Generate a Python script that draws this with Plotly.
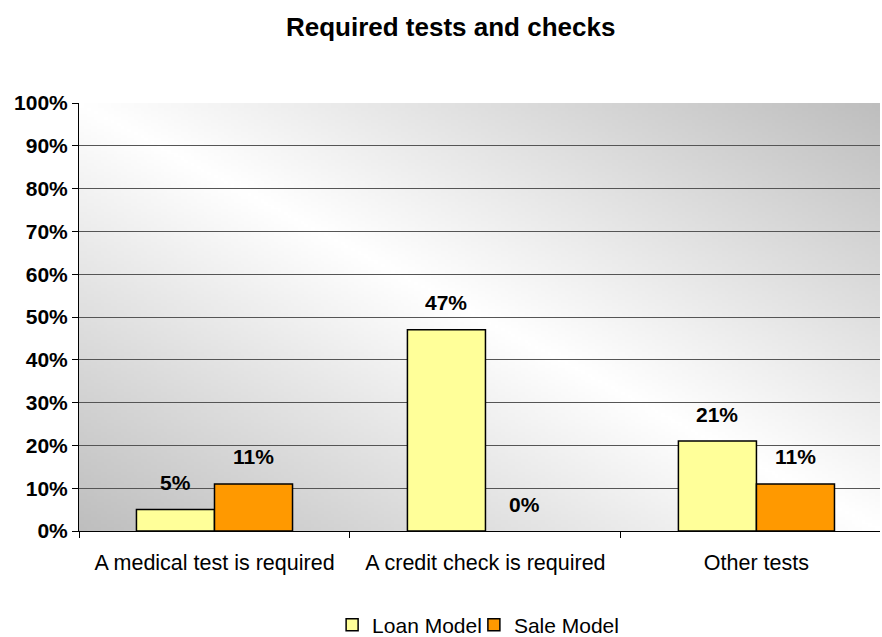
import base64, struct, zlib
import plotly.graph_objects as go

categories = ["A medical test is required", "A credit check is required", "Other tests"]
loan_model = [5, 47, 21]
sale_model = [11, 0, 11]
series_names = ["Loan Model", "Sale Model"]
y_ticks = [0, 10, 20, 30, 40, 50, 60, 70, 80, 90, 100]
y_tick_labels = [f"{v}%" for v in y_ticks]

FONT = "Liberation Sans, Arial, sans-serif"
LOAN_COLOR = "#FFFF99"
SALE_COLOR = "#FF9900"


def make_gradient_png(w=240, h=140):
    rows = []
    for j in range(h):
        v = j / (h - 1)
        row = bytearray([0])
        for i in range(w):
            u = i / (w - 1)
            d = abs(u - v)
            g = int(round(255 - (255 - 190) * d))
            row.append(g)
        rows.append(bytes(row))
    raw = b"".join(rows)

    def chunk(tag, data):
        c = struct.pack(">I", len(data)) + tag + data
        return c + struct.pack(">I", zlib.crc32(tag + data) & 0xFFFFFFFF)

    png = b"\x89PNG\r\n\x1a\n"
    png += chunk(b"IHDR", struct.pack(">IIBBBBB", w, h, 8, 0, 0, 0, 0))
    png += chunk(b"IDAT", zlib.compress(raw, 9))
    png += chunk(b"IEND", b"")
    return "data:image/png;base64," + base64.b64encode(png).decode()


x_idx = list(range(len(categories)))
bar_w = 0.288

fig = go.Figure()
fig.add_trace(go.Bar(
    x=x_idx, y=loan_model, name=series_names[0], legend="legend",
    marker=dict(color=LOAN_COLOR,
                line=dict(color="black", width=[1.5 if v > 0 else 0 for v in loan_model])),
    offsetgroup="a", width=bar_w, offset=-bar_w,
))
fig.add_trace(go.Bar(
    x=x_idx, y=sale_model, name=series_names[1], legend="legend2",
    marker=dict(color=SALE_COLOR,
                line=dict(color="black", width=[1.5 if v > 0 else 0 for v in sale_model])),
    offsetgroup="b", width=bar_w, offset=0,
))

label_font = dict(family=FONT, size=21, color="black", weight="bold")
annotations = []
for i, (a, b) in enumerate(zip(loan_model, sale_model)):
    annotations.append(dict(x=i - bar_w / 2, y=a, xref="x", yref="y", text=f"{a}%",
                            showarrow=False, yshift=27, font=label_font))
    annotations.append(dict(x=i + bar_w / 2, y=b, xref="x", yref="y", text=f"{b}%",
                            showarrow=False, yshift=27, font=label_font))

legend_common = dict(orientation="h", xanchor="left",
                     yref="container", y=1 - 625 / 637, yanchor="middle",
                     font=dict(family=FONT, size=21, color="black"),
                     itemwidth=30, tracegroupgap=0, bgcolor="rgba(0,0,0,0)")

fig.update_layout(
    width=882, height=637,
    margin=dict(l=79, r=2, t=103, b=106),
    paper_bgcolor="white",
    plot_bgcolor="rgba(0,0,0,0)",
    title=dict(text="<b>Required tests and checks</b>", x=0.511, xanchor="center",
               y=0.958, yanchor="middle",
               font=dict(family=FONT, size=26, color="black")),
    font=dict(family=FONT, color="black"),
    showlegend=True,
    legend=dict(x=0.316, **legend_common),
    legend2=dict(x=0.493, **legend_common),
    images=[dict(source=make_gradient_png(), xref="paper", yref="paper",
                 x=0, y=1, sizex=1, sizey=1, sizing="stretch",
                 xanchor="left", yanchor="top", layer="below")],
    annotations=annotations,
    bargap=0.424,
)

fig.update_xaxes(
    range=[-0.5, 2.456],
    tickmode="array", tickvals=x_idx, ticktext=categories,
    ticks="outside", ticklen=12, tickcolor="rgba(0,0,0,0)",
    showgrid=False, zeroline=False, automargin=False,
    showline=True, linecolor="black", linewidth=1,
    tickfont=dict(family=FONT, size=21.5, color="black"),
    minor=dict(tickmode="array", tickvals=[-0.5, 0.5, 1.5, 2.5], ticks="outside",
               ticklen=6, tickcolor="black", showgrid=False),
)
fig.update_yaxes(
    range=[0, 100], tickmode="array", tickvals=y_ticks, ticktext=y_tick_labels,
    ticks="outside", ticklen=6, tickcolor="black", automargin=False,
    showline=True, linecolor="black", linewidth=1,
    showgrid=True, gridcolor="#555555", gridwidth=1, zeroline=False,
    tickfont=dict(family=FONT, size=21, color="black", weight="bold"),
)

fig.write_html("out.html", config={"displayModeBar": False},
               post_script="document.body.style.margin='0';")
